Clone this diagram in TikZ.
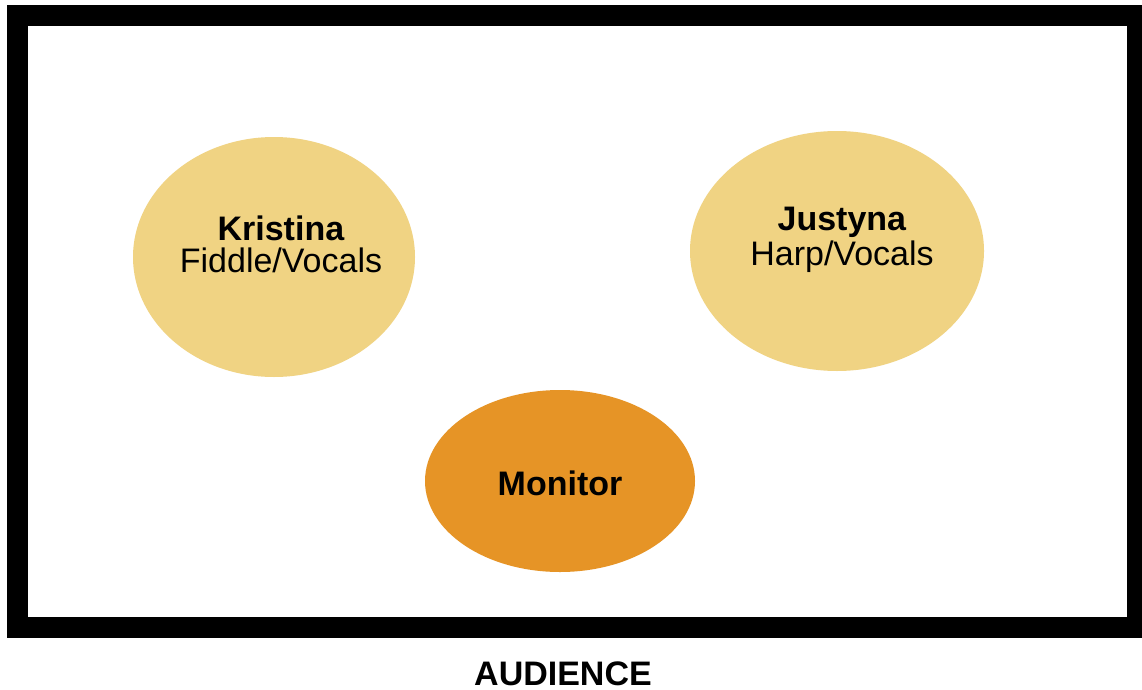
\documentclass[tikz,border=0pt]{standalone}
\usepackage{fontspec}
\setmainfont{Liberation Sans}
\usetikzlibrary{shapes.geometric}
\definecolor{pale}{HTML}{F0D383}
\definecolor{orng}{HTML}{E69426}
\tikzset{
  player/.style={ellipse, fill=pale, draw=none, inner sep=0pt},
  lbl/.style={anchor=base, inner sep=0pt, font=\fontsize{34}{34}\selectfont},
}
\begin{document}
\begin{tikzpicture}[x=1pt,y=-1pt]
\useasboundingbox (0,0) rectangle (1142,690);
\fill[white] (0,0) rectangle (1142,690);
\node[draw=black, line width=21pt, minimum width=1120pt, minimum height=611pt, inner sep=0pt] (stage) at (577.5,321.5) {};
\node[player, minimum width=282pt, minimum height=240pt] (kris) at (274,257) {};
\node[player, minimum width=294pt, minimum height=240pt] (just) at (837,251) {};
\node[ellipse, fill=orng, inner sep=0pt, minimum width=270pt, minimum height=182pt] (mon) at (560,481) {};
\node[lbl] (k1) at (281,240) {\textbf{Kristina}};
\node[lbl] (k2) at (281,272) {Fiddle/Vocals};
\node[lbl] (j1) at (842,230) {\textbf{Justyna}};
\node[lbl] (j2) at (842,265) {Harp/Vocals};
\node[lbl] (m1) at (560,495) {\textbf{Monitor}};
\node[lbl] (aud) at (563,685) {\textbf{AUDIENCE}};
\end{tikzpicture}
\end{document}
